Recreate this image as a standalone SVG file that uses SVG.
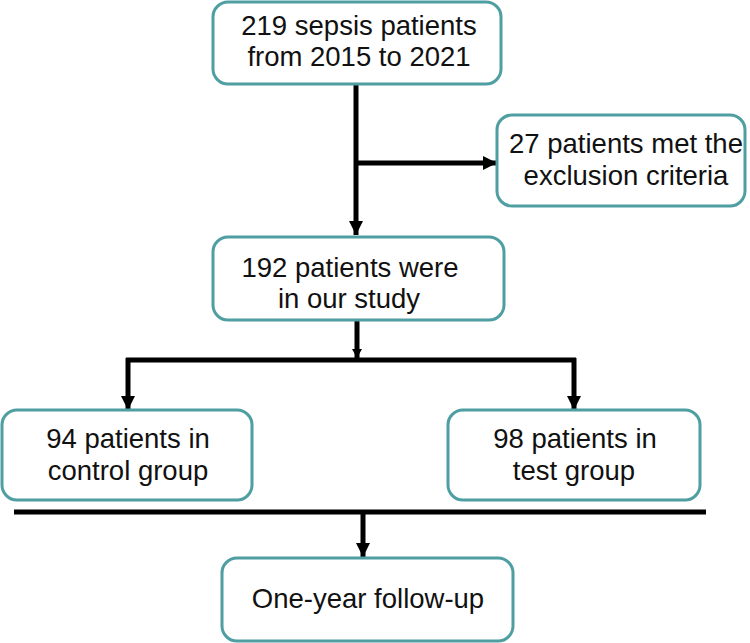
<svg xmlns="http://www.w3.org/2000/svg" width="750" height="643" viewBox="0 0 750 643">
<style>
.box{fill:#fff;stroke:#4e9ea2;stroke-width:3}
.t{font-family:"Liberation Sans",Arial,sans-serif;font-size:27.5px;fill:#111;text-anchor:middle}
.ln{stroke:#000;stroke-width:5;fill:none}
</style>
<defs>
<marker id="ah" markerUnits="userSpaceOnUse" markerWidth="16" markerHeight="16" refX="14" refY="7" orient="auto">
<path d="M0,0 L14,7 L0,14 Z" fill="#000"/>
</marker>
<marker id="ahs" markerUnits="userSpaceOnUse" markerWidth="12" markerHeight="12" refX="9" refY="5" orient="auto">
<path d="M0,0 L9,5 L0,10 Z" fill="#000"/>
</marker>
</defs>
<rect width="750" height="643" fill="#fff"/>
<g id="connectors">
<line class="ln" x1="356" y1="84" x2="356" y2="235" marker-end="url(#ah)"/>
<line class="ln" x1="356" y1="163" x2="497" y2="163" marker-end="url(#ah)"/>
<line class="ln" x1="357" y1="320" x2="357" y2="358" marker-end="url(#ahs)"/>
<line class="ln" x1="126" y1="360" x2="576" y2="360"/>
<line class="ln" x1="128" y1="358" x2="128" y2="410" marker-end="url(#ah)"/>
<line class="ln" x1="574" y1="358" x2="574" y2="410" marker-end="url(#ah)"/>
<line class="ln" x1="14" y1="512" x2="706" y2="512"/>
<line class="ln" x1="363" y1="512" x2="363" y2="557" marker-end="url(#ah)"/>
</g>
<g id="n1">
<rect class="box" x="213" y="2" width="288" height="82" rx="15"/>
<text class="t" x="359" y="35">219 sepsis patients</text>
<text class="t" x="359" y="66">from 2015 to 2021</text>
</g>
<g id="n2">
<rect class="box" x="497" y="115" width="248" height="91" rx="15"/>
<text class="t" x="626" y="153">27 patients met the</text>
<text class="t" x="626" y="185">exclusion criteria</text>
</g>
<g id="n3">
<rect class="box" x="213" y="237" width="291" height="83" rx="15"/>
<text class="t" x="350" y="277">192 patients were</text>
<text class="t" x="349" y="308">in our study</text>
</g>
<g id="n4">
<rect class="box" x="2" y="410" width="250" height="90" rx="15"/>
<text class="t" x="128" y="448">94 patients in</text>
<text class="t" x="128" y="480">control group</text>
</g>
<g id="n5">
<rect class="box" x="448" y="410" width="252" height="90" rx="15"/>
<text class="t" x="575" y="448">98 patients in</text>
<text class="t" x="574" y="480">test group</text>
</g>
<g id="n6">
<rect class="box" x="222" y="558" width="291" height="83" rx="15"/>
<text class="t" x="368" y="608">One-year follow-up</text>
</g>
</svg>
